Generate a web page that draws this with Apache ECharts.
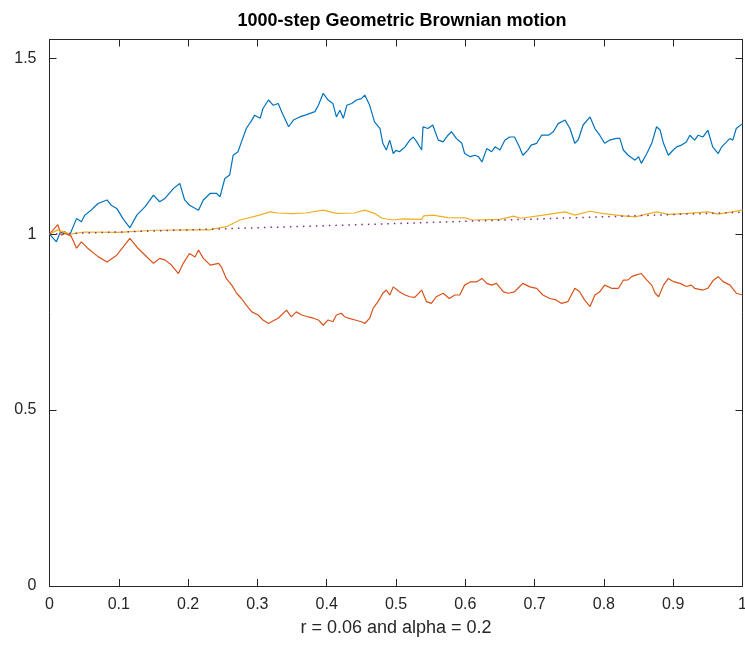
<!DOCTYPE html>
<html>
<head>
<meta charset="utf-8">
<title>1000-step Geometric Brownian motion</title>
<script src="https://cdn.jsdelivr.net/npm/echarts@6/dist/echarts.min.js"></script>
<style>
  html, body { margin: 0; padding: 0; background: #ffffff; }
  #chart { width: 745px; height: 656px; }
</style>
</head>
<body>
<div id="chart"></div>
<script>
// Sample path S(t) driven by W(t)
const pathUp = [
  [0,1.000],[0.010,0.978],[0.015,1.003],[0.022,1.007],[0.029,0.997],[0.039,1.044],[0.046,1.035],[0.051,1.054],
  [0.060,1.068],[0.070,1.087],[0.083,1.097],[0.089,1.082],[0.097,1.073],[0.106,1.044],[0.116,1.018],[0.126,1.054],
  [0.138,1.078],[0.150,1.111],[0.159,1.092],[0.167,1.102],[0.179,1.130],[0.188,1.144],[0.195,1.097],[0.202,1.082],
  [0.215,1.068],[0.222,1.097],[0.232,1.116],[0.241,1.116],[0.246,1.106],[0.253,1.158],[0.260,1.168],[0.265,1.224],
  [0.272,1.234],[0.277,1.262],[0.284,1.300],[0.292,1.324],[0.296,1.338],[0.304,1.329],[0.308,1.357],[0.316,1.381],
  [0.323,1.366],[0.330,1.371],[0.335,1.348],[0.345,1.305],[0.352,1.324],[0.361,1.333],[0.369,1.338],[0.376,1.343],
  [0.383,1.348],[0.388,1.366],[0.395,1.400],[0.402,1.381],[0.409,1.371],[0.414,1.333],[0.419,1.352],[0.424,1.329],
  [0.429,1.366],[0.436,1.371],[0.443,1.381],[0.450,1.385],[0.455,1.395],[0.462,1.366],[0.469,1.319],[0.477,1.300],
  [0.481,1.258],[0.486,1.239],[0.491,1.267],[0.496,1.229],[0.500,1.238],[0.505,1.234],[0.513,1.248],[0.520,1.267],
  [0.525,1.276],[0.530,1.262],[0.537,1.239],[0.539,1.305],[0.546,1.300],[0.553,1.310],[0.561,1.267],[0.568,1.262],
  [0.575,1.281],[0.580,1.291],[0.587,1.272],[0.595,1.258],[0.599,1.229],[0.607,1.220],[0.614,1.224],[0.619,1.220],
  [0.624,1.205],[0.631,1.243],[0.638,1.234],[0.643,1.248],[0.650,1.239],[0.657,1.267],[0.664,1.276],[0.671,1.276],
  [0.678,1.248],[0.683,1.224],[0.690,1.238],[0.695,1.253],[0.703,1.258],[0.710,1.281],[0.720,1.281],[0.727,1.291],
  [0.734,1.314],[0.744,1.324],[0.751,1.300],[0.758,1.258],[0.763,1.268],[0.770,1.310],[0.780,1.333],[0.787,1.300],
  [0.794,1.281],[0.801,1.258],[0.808,1.267],[0.818,1.272],[0.823,1.272],[0.828,1.239],[0.835,1.224],[0.845,1.210],
  [0.850,1.220],[0.854,1.201],[0.862,1.229],[0.869,1.258],[0.876,1.305],[0.881,1.296],[0.886,1.258],[0.893,1.224],
  [0.900,1.239],[0.905,1.248],[0.912,1.253],[0.919,1.262],[0.924,1.281],[0.931,1.267],[0.936,1.281],[0.943,1.276],
  [0.950,1.295],[0.957,1.248],[0.965,1.229],[0.970,1.248],[0.977,1.262],[0.982,1.272],[0.986,1.267],[0.991,1.300],
  [1.000,1.314]
];

// Antithetic path driven by -W(t)
const pathDown = [
  [0,1.000],[0.012,1.027],[0.017,0.997],[0.022,1.002],[0.031,0.995],[0.039,0.960],[0.046,0.978],[0.055,0.960],
  [0.070,0.936],[0.083,0.921],[0.097,0.940],[0.116,0.988],[0.128,0.959],[0.138,0.940],[0.150,0.917],[0.159,0.931],
  [0.167,0.926],[0.176,0.912],[0.186,0.888],[0.193,0.917],[0.202,0.945],[0.210,0.935],[0.215,0.955],[0.222,0.931],
  [0.232,0.912],[0.244,0.917],[0.248,0.907],[0.255,0.874],[0.263,0.855],[0.270,0.832],[0.277,0.817],[0.284,0.798],
  [0.292,0.779],[0.301,0.770],[0.308,0.756],[0.316,0.746],[0.325,0.756],[0.330,0.761],[0.342,0.784],[0.349,0.765],
  [0.356,0.779],[0.364,0.770],[0.373,0.765],[0.381,0.761],[0.388,0.756],[0.395,0.741],[0.402,0.756],[0.409,0.751],
  [0.414,0.770],[0.421,0.775],[0.426,0.765],[0.431,0.761],[0.441,0.756],[0.450,0.751],[0.455,0.746],[0.462,0.761],
  [0.467,0.789],[0.474,0.808],[0.481,0.832],[0.486,0.841],[0.491,0.827],[0.496,0.850],[0.505,0.836],[0.513,0.827],
  [0.520,0.822],[0.527,0.820],[0.537,0.841],[0.544,0.808],[0.551,0.803],[0.558,0.822],[0.568,0.832],[0.577,0.817],
  [0.585,0.827],[0.592,0.827],[0.599,0.855],[0.607,0.864],[0.616,0.864],[0.624,0.874],[0.631,0.860],[0.638,0.855],
  [0.645,0.860],[0.655,0.836],[0.662,0.832],[0.671,0.836],[0.676,0.846],[0.683,0.860],[0.693,0.850],[0.703,0.846],
  [0.712,0.827],[0.722,0.817],[0.731,0.813],[0.739,0.803],[0.748,0.808],[0.758,0.846],[0.765,0.836],[0.772,0.813],
  [0.780,0.794],[0.787,0.827],[0.794,0.836],[0.801,0.855],[0.811,0.846],[0.821,0.846],[0.828,0.869],[0.835,0.870],
  [0.840,0.879],[0.847,0.884],[0.854,0.888],[0.862,0.869],[0.869,0.855],[0.874,0.832],[0.879,0.822],[0.886,0.855],
  [0.893,0.874],[0.900,0.865],[0.910,0.860],[0.919,0.851],[0.926,0.855],[0.931,0.846],[0.943,0.841],[0.950,0.846],
  [0.958,0.869],[0.965,0.879],[0.972,0.865],[0.982,0.855],[0.991,0.832],[1.000,0.827]
];

// Mean of the two paths
const pathMean = [
  [0,1.000],[0.012,1.012],[0.030,1.000],[0.050,1.006],[0.100,1.005],[0.150,1.011],[0.200,1.012],[0.230,1.012],
  [0.255,1.021],[0.275,1.040],[0.303,1.054],[0.318,1.063],[0.330,1.060],[0.350,1.058],[0.370,1.060],[0.395,1.068],
  [0.414,1.059],[0.440,1.060],[0.455,1.068],[0.470,1.058],[0.480,1.045],[0.496,1.040],[0.510,1.043],[0.537,1.042],
  [0.540,1.052],[0.553,1.054],[0.575,1.047],[0.600,1.046],[0.610,1.040],[0.650,1.042],[0.670,1.051],[0.680,1.045],
  [0.710,1.053],[0.744,1.063],[0.758,1.054],[0.780,1.065],[0.800,1.058],[0.828,1.052],[0.845,1.049],[0.876,1.063],
  [0.893,1.056],[0.920,1.059],[0.950,1.063],[0.965,1.057],[1.000,1.068]
];

// Expected value e^(r t)
const pathExpected = [
  [0,1.000],[0.25,1.015],[0.5,1.030],[0.75,1.046],[1,1.062]
];

const xTicks = [0, 0.1, 0.2, 0.3, 0.4, 0.5, 0.6, 0.7, 0.8, 0.9, 1];
const yTicks = [0, 0.5, 1, 1.5];

const ink = '#262626';
const font = '"Liberation Sans", Arial, Helvetica, sans-serif';

function boxAxis(extra) {
  return Object.assign({
    type: 'value',
    axisLine: { show: true, onZero: false, lineStyle: { color: ink, width: 1 } },
    axisTick: { show: true, inside: true, length: 7, lineStyle: { color: ink, width: 1 } },
    splitLine: { show: false },
    axisLabel: { show: false }
  }, extra);
}

const chart = echarts.init(document.getElementById('chart'), null, { renderer: 'canvas' });

chart.setOption({
  animation: false,
  backgroundColor: '#ffffff',
  title: {
    text: '1000-step Geometric Brownian motion',
    left: 397, top: 7, textAlign: 'center',
    textStyle: { fontFamily: font, fontSize: 18, fontWeight: 'bold', color: '#000000' }
  },
  grid: { left: 49.5, right: 2.5, top: 39.5, bottom: 70, containLabel: false, outerBoundsMode: 'none' },
  xAxis: [
    boxAxis({
      position: 'bottom', min: 0, max: 1, interval: 0.1,
      axisTick: { show: true, inside: true, length: 7, lineStyle: { color: ink, width: 1 }, customValues: xTicks },
      axisLabel: {
        show: true, customValues: xTicks, margin: 11, color: ink,
        fontFamily: font, fontSize: 16,
        formatter: v => String(Math.round(v * 10) / 10)
      },
      name: 'r = 0.06 and alpha = 0.2', nameLocation: 'middle', nameGap: 33,
      nameTextStyle: { fontFamily: font, fontSize: 18, color: ink }
    }),
    boxAxis({
      position: 'top', min: 0, max: 1, interval: 0.1,
      axisTick: { show: true, inside: true, length: 7, lineStyle: { color: ink, width: 1 }, customValues: xTicks }
    })
  ],
  yAxis: [
    boxAxis({
      position: 'left', min: 0, max: 1.553,
      axisTick: { show: true, inside: true, length: 7, lineStyle: { color: ink, width: 1 }, customValues: yTicks },
      axisLabel: {
        show: true, customValues: yTicks, margin: 13, color: ink,
        fontFamily: font, fontSize: 16,
        formatter: v => String(v)
      }
    }),
    boxAxis({
      position: 'right', min: 0, max: 1.553,
      axisTick: { show: true, inside: true, length: 7, lineStyle: { color: ink, width: 1 }, customValues: yTicks }
    })
  ],
  series: [
    {
      type: 'line', data: pathUp, showSymbol: false, smooth: false,
      lineStyle: { color: '#0072BD', width: 1.2 }, z: 3
    },
    {
      type: 'line', data: pathDown, showSymbol: false, smooth: false,
      lineStyle: { color: '#D95319', width: 1.2 }, z: 3
    },
    {
      type: 'line', data: pathMean, showSymbol: false, smooth: false,
      lineStyle: { color: '#EDB120', width: 1.2 }, z: 4
    },
    {
      type: 'line', data: pathExpected, showSymbol: false, smooth: false,
      lineStyle: { color: '#7E2F8E', width: 1.5, type: [1.5, 5] }, z: 5
    }
  ]
});
</script>
</body>
</html>
